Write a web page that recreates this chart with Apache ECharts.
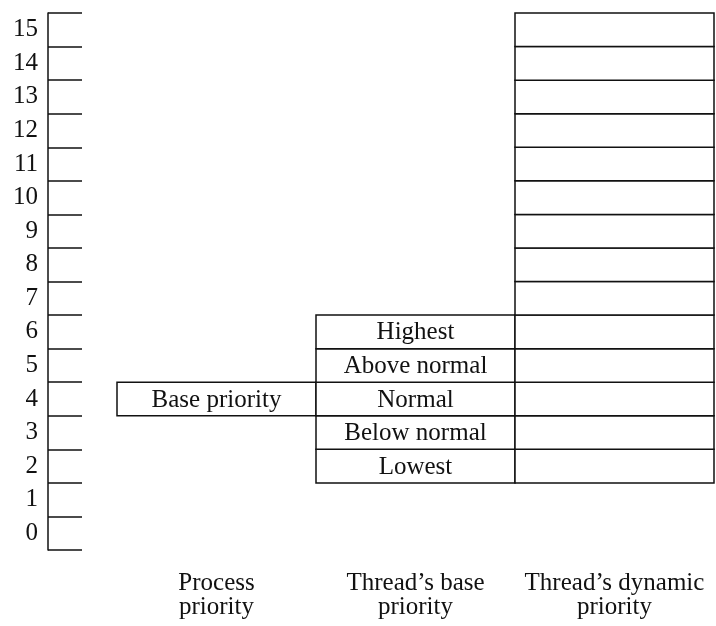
<!DOCTYPE html>
<html><head><meta charset="utf-8">
<script src="https://cdn.jsdelivr.net/npm/echarts@6/dist/echarts.min.js"></script>
<style>html,body{margin:0;padding:0;background:#fff}#c{width:716px;height:626px}</style>
</head><body><div id="c"></div>
<script>
const columns = ['Process\npriority', "Thread\u2019s base\npriority", "Thread\u2019s dynamic\npriority"];
const levels = ['0','1','2','3','4','5','6','7','8','9','10','11','12','13','14','15'];
const processLevels = [4];
const processLabels = ['Base priority'];
const threadBaseLevels = [2, 3, 4, 5, 6];
const threadBaseLabels = ['Lowest', 'Below normal', 'Normal', 'Above normal', 'Highest'];
const dynamicLevels = [2, 3, 4, 5, 6, 7, 8, 9, 10, 11, 12, 13, 14, 15];

const FONT = '"Liberation Serif", "Times New Roman", serif';
const INK = '#111';

const cells = [];
processLevels.forEach((l, i) => cells.push([0, l, processLabels[i]]));
threadBaseLevels.forEach((l, i) => cells.push([1, l, threadBaseLabels[i]]));
dynamicLevels.forEach(l => cells.push([2, l, '']));

const chart = echarts.init(document.getElementById('c'), null, {renderer: 'canvas'});
chart.setOption({
  backgroundColor: '#fff',
  animation: false,
  grid: {left: 117, right: 2, top: 13, bottom: 76},
  xAxis: {
    type: 'category', data: columns,
    axisLine: {show: false}, axisTick: {show: false}, splitLine: {show: false},
    axisLabel: {interval: 0, fontSize: 25, lineHeight: 24, fontFamily: FONT, color: INK, margin: 21}
  },
  yAxis: {
    type: 'category', data: levels, position: 'left', offset: 69,
    axisLine: {show: true, lineStyle: {color: INK, width: 1.5}},
    axisTick: {show: true, inside: true, length: 34, lineStyle: {color: INK, width: 1.5}},
    splitLine: {show: false},
    axisLabel: {fontSize: 25, fontFamily: FONT, color: INK, margin: 10}
  },
  series: [{
    type: 'custom',
    data: cells,
    encode: {x: 0, y: 1},
    renderItem: function (params, api) {
      const c = api.coord([api.value(0), api.value(1)]);
      const w = api.size([1, 0])[0];
      const h = api.size([0, 1])[1];
      const label = cells[params.dataIndex][2];
      const children = [{
        type: 'rect',
        shape: {x: c[0] - w / 2, y: c[1] - h / 2, width: w, height: h},
        style: {fill: '#fff', stroke: INK, lineWidth: 1.5}
      }];
      if (label) {
        children.push({
          type: 'text',
          style: {text: label, x: c[0], y: c[1] + 1, align: 'center', verticalAlign: 'middle',
                  font: '25px ' + FONT, fill: INK}
        });
      }
      return {type: 'group', children: children};
    }
  }]
});
</script></body></html>
